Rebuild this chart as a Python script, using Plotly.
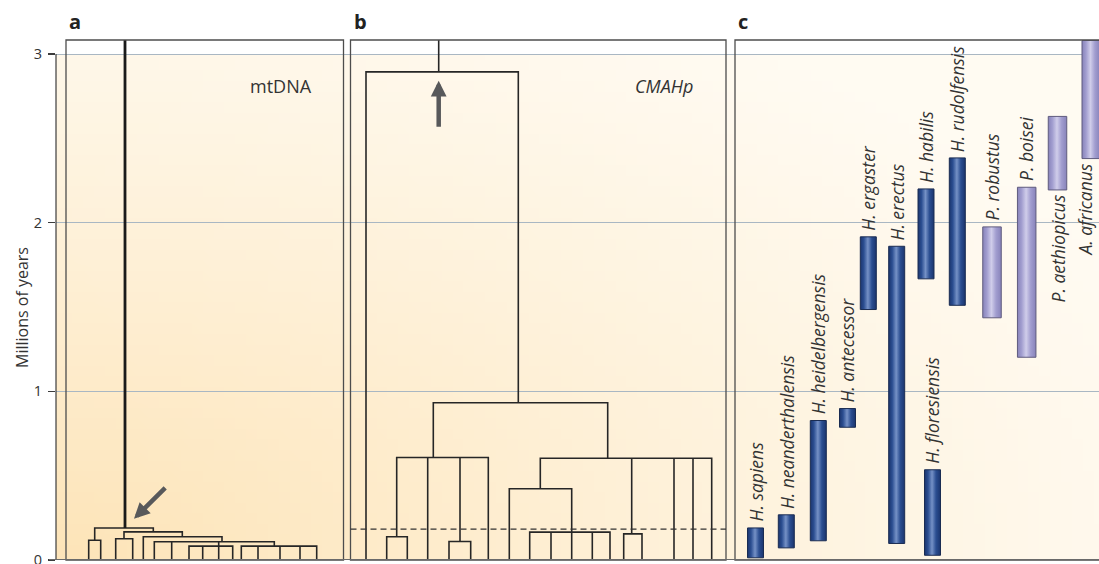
import zlib, struct, base64
import plotly.graph_objects as go

# ---------------------------------------------------------------- data
Y_TICKS = [0, 1, 2, 3]
Y_TICK_TEXT = ["0", "1", "2", "3"]
Y_MAX = 3.083
Y_TITLE = "Millions of years"
PANEL_LETTERS = ["a", "b", "c"]
GENE_LABELS = ["mtDNA", "CMAHp"]

# Trees: node = (attach_x, age_Myr, children); a bare number is a leaf (age 0) at that x
MT_TREE = (59.0, 0.190, [
    (28.7, 0.117, [22.7, 34.7]),
    (87.3, 0.167, [
        (58.0, 0.126, [49.7, 66.7]),
        (116.3, 0.138, [77.3,
            (156.0, 0.108, [88.3, 105.7,
                (152.7, 0.082, [123.0, 136.7, 152.7, 166.7]),
                (208.3, 0.082, [175.3, 192.0, 214.0, 234.0, 250.7])])])])])

CMAH_TREE = (88.2, 2.894, [15.5,
    (167.8, 0.932, [
        (82.8, 0.608, [(46.2, 0.138, [36.2, 56.8]), 77.2,
                       (109.5, 0.110, [98.5, 120.2]), 137.8]),
        (257.2, 0.603, [(189.8, 0.422, [158.8,
                                        (221.2, 0.165, [179.2, 200.5, 221.2, 241.8, 259.5])]),
                        (281.2, 0.155, [273.2, 291.5]), 323.5, 342.5, 361.2])])])

CMAH_DASH_AGE = 0.183

# arrows: (tail_x, tail_age, head_x, head_age)
MT_ARROW = [100.7, 0.437, 68.0, 0.244]
CMAH_ARROW = [88.2, 2.560, 88.2, 2.842]

# Panel c: fossil species time ranges
SPECIES = ["H. sapiens", "H. neanderthalensis", "H. heidelbergensis", "H. antecessor",
           "H. ergaster", "H. erectus", "H. habilis", "H. floresiensis", "H. rudolfensis",
           "P. robustus", "P. boisei", "P. aethiopicus", "A. africanus"]
SPECIES_POS = [20.5, 51.3, 83.3, 112.5, 133.3, 161.7, 191.0, 197.5, 222.3,
               257.0, 291.7, 322.5, 356.0]
SPECIES_FROM = [0.013, 0.072, 0.114, 0.787, 1.485, 0.098, 1.667, 0.028, 1.510,
                1.436, 1.202, 2.194, 2.380]
SPECIES_TO = [0.190, 0.268, 0.827, 0.898, 1.916, 1.860, 2.200, 0.535, 2.384,
              1.975, 2.210, 2.630, 3.080]
GENUS = ["Homo"] * 9 + ["Paranthropus"] * 3 + ["Australopithecus"]
LABEL_BELOW = [False] * 11 + [True, True]

# ---------------------------------------------------------------- styles / geometry
FONT = "Open Sans"
TEXT_COL = "#333333"
TREE_COL = "#262626"
FRAME_COL = "#4d4d4d"
GRID_COL = "#a9b7c3"
ARROW_COL = "#58595b"
BAR_WIDTH = {"Homo": 16, "Paranthropus": 18.5, "Australopithecus": 18}
BAR_SCALE = {
    "Homo": [[0, "#1b356e"], [0.22, "#2b4e91"], [0.47, "#7591c6"], [0.72, "#2b4e91"], [1, "#1b356e"]],
    "Paranthropus": [[0, "#8883ba"], [0.22, "#a19dcf"], [0.47, "#d0cdea"], [0.72, "#a19dcf"], [1, "#8883ba"]],
    "Australopithecus": [[0, "#8883ba"], [0.22, "#a19dcf"], [0.47, "#d0cdea"], [0.72, "#a19dcf"], [1, "#8883ba"]],
}
BAR_LINE = {"Homo": "#1a2c52", "Paranthropus": "#5f5b7e", "Australopithecus": "#5f5b7e"}

W, H = 1099, 564
ML, MR, MT, MB = 56, 0, 40, 4
PW = W - ML - MR
PH = H - MT - MB


def paper_x(sx):
    return (sx - ML) / PW


def paper_y(sy):
    return (H - MB - sy) / PH


# panel x extents in px (left, right)
PANELS = [(66, 343.5), (350.5, 726), (735, 1099)]
DOMAINS = [(paper_x(l), min(1.0, paper_x(r))) for l, r in PANELS]


# ---------------------------------------------------------------- gradient image
def _chunk(tag, data):
    return (struct.pack(">I", len(data)) + tag + data +
            struct.pack(">I", zlib.crc32(tag + data) & 0xFFFFFFFF))


def gradient_png(w=96, h=48):
    warm = (253, 228, 184)
    light = (255, 253, 248)
    rows = []
    for j in range(h):
        yn = 1 - (j + 0.5) / h  # 0 at bottom
        row = bytearray()
        for i in range(w):
            xn = (i + 0.5) / w
            d = ((xn / 1.15) ** 2 + (yn / 1.25) ** 2) ** 0.5
            t = max(0.0, 1 - d) ** 1.15
            t = 0.09 + 0.91 * t
            for a, b in zip(light, warm):
                row.append(int(round(a + (b - a) * t)))
        rows.append(b"\x00" + bytes(row))
    raw = b"".join(rows)
    png = (b"\x89PNG\r\n\x1a\n" +
           _chunk(b"IHDR", struct.pack(">IIBBBBB", w, h, 8, 2, 0, 0, 0)) +
           _chunk(b"IDAT", zlib.compress(raw, 9)) + _chunk(b"IEND", b""))
    return "data:image/png;base64," + base64.b64encode(png).decode()


# ---------------------------------------------------------------- tree helpers
def _x(c):
    return c[0] if isinstance(c, tuple) else c


def _h(c):
    return c[1] if isinstance(c, tuple) else 0.0


def tree_xy(root):
    xs, ys = [], []

    def walk(n):
        _, h, kids = n
        ks = sorted(kids, key=_x)
        first, last = ks[0], ks[-1]
        xs.extend([_x(first), _x(first), _x(last), _x(last), None])
        ys.extend([_h(first), h, h, _h(last), None])
        for k in ks[1:-1]:
            xs.extend([_x(k), _x(k), None])
            ys.extend([_h(k), h, None])
        for k in ks:
            if isinstance(k, tuple):
                walk(k)

    walk(root)
    return xs, ys


fig = go.Figure()

# background subplot (axis, grid, gradient)
fig.add_trace(go.Scatter(x=[], y=[], xaxis="x", yaxis="y", showlegend=False, hoverinfo="skip"))

# panel a tree
xs, ys = tree_xy(MT_TREE)
fig.add_trace(go.Scatter(x=xs, y=ys, mode="lines", line=dict(color=TREE_COL, width=1.6),
                         xaxis="x2", yaxis="y2", showlegend=False, hoverinfo="skip"))
fig.add_trace(go.Scatter(x=[MT_TREE[0], MT_TREE[0]], y=[MT_TREE[1], Y_MAX], mode="lines",
                         line=dict(color="#1a1a1a", width=2.8),
                         xaxis="x2", yaxis="y2", showlegend=False, hoverinfo="skip"))

# panel b tree
xs, ys = tree_xy(CMAH_TREE)
fig.add_trace(go.Scatter(x=xs, y=ys, mode="lines", line=dict(color=TREE_COL, width=1.6),
                         xaxis="x3", yaxis="y3", showlegend=False, hoverinfo="skip"))
fig.add_trace(go.Scatter(x=[CMAH_TREE[0], CMAH_TREE[0]], y=[CMAH_TREE[1], Y_MAX], mode="lines",
                         line=dict(color=TREE_COL, width=1.6),
                         xaxis="x3", yaxis="y3", showlegend=False, hoverinfo="skip"))

# panel c bars
annotations = []
for name, pos, y0, y1, g, below in zip(SPECIES, SPECIES_POS, SPECIES_FROM, SPECIES_TO, GENUS, LABEL_BELOW):
    hw = BAR_WIDTH[g] / 2
    fig.add_trace(go.Scatter(
        x=[pos - hw, pos + hw, pos + hw, pos - hw, pos - hw],
        y=[y0, y0, y1, y1, y0], mode="lines", fill="toself",
        fillgradient=dict(type="horizontal", colorscale=BAR_SCALE[g]),
        line=dict(color=BAR_LINE[g], width=1),
        xaxis="x4", yaxis="y4", showlegend=False, hoverinfo="skip"))
    annotations.append(dict(
        x=pos, y=y0 if below else y1, xref="x4", yref="y4", text=name, showarrow=False,
        textangle=-90, xanchor="right" if pos > 350 else "center",
        xshift=8 if pos > 350 else 0,
        yanchor="top" if below else "bottom",
        yshift=-3 if below else 4,
        font=dict(family=FONT, size=17.5, color=TEXT_COL, style="italic")))

# arrows
for arr, xr, yr in [(MT_ARROW, "x2", "y2"), (CMAH_ARROW, "x3", "y3")]:
    annotations.append(dict(x=arr[2], y=arr[3], ax=arr[0], ay=arr[1], xref=xr, yref=yr,
                            axref=xr, ayref=yr, text="", showarrow=True, arrowhead=2,
                            arrowsize=0.7, arrowwidth=4.5, arrowcolor=ARROW_COL))

# panel letters
for letter, (l, r) in zip(PANEL_LETTERS, PANELS):
    annotations.append(dict(x=paper_x(l + 1), y=paper_y(37), xref="paper", yref="paper",
                            text="<b>%s</b>" % letter, showarrow=False, xanchor="left", yanchor="bottom",
                            font=dict(family=FONT, size=20, color="#222222")))

# gene labels
annotations.append(dict(x=1, xshift=-30, y=paper_y(86), xref="x2 domain", yref="paper",
                        text=GENE_LABELS[0], showarrow=False, xanchor="right", yanchor="middle",
                        font=dict(family=FONT, size=18, color=TEXT_COL)))
annotations.append(dict(x=1, xshift=-31, y=paper_y(86), xref="x3 domain", yref="paper",
                        text=GENE_LABELS[1], showarrow=False, xanchor="right", yanchor="middle",
                        font=dict(family=FONT, size=18, color=TEXT_COL, style="italic")))

# y title
annotations.append(dict(x=paper_x(21.5), y=paper_y(307.5), xref="paper", yref="paper",
                        text=Y_TITLE, showarrow=False, textangle=-90, xanchor="center", yanchor="middle",
                        font=dict(family=FONT, size=16, color=TEXT_COL)))

shapes = []
# panel frames
for i, ax in enumerate(["x2", "x3", "x4"]):
    shapes.append(dict(type="rect", xref=ax + " domain", yref="paper", x0=0, x1=1 if i < 2 else 1.05,
                       y0=0, y1=1, line=dict(color=FRAME_COL, width=1.3), fillcolor="rgba(0,0,0,0)",
                       layer="above"))
# dashed line in panel b
shapes.append(dict(type="line", xref="x3 domain", yref="y3", x0=0, x1=1, y0=CMAH_DASH_AGE, y1=CMAH_DASH_AGE,
                   line=dict(color="#333333", width=1.2, dash="6px,4px")))
# y axis line 0..3 and base line
shapes.append(dict(type="line", xref="x domain", yref="y", x0=0, x1=0, y0=Y_TICKS[0], y1=Y_TICKS[-1],
                   line=dict(color="#3c3c3c", width=1.2)))
shapes.append(dict(type="line", xref="paper", yref="y", x0=-7 / PW, x1=1, y0=0, y1=0,
                   line=dict(color="#6a6a6a", width=2)))

layout = dict(
    width=W, height=H, margin=dict(l=ML, r=MR, t=MT, b=MB, autoexpand=False),
    paper_bgcolor="white", plot_bgcolor="rgba(0,0,0,0)", showlegend=False,
    font=dict(family=FONT, color=TEXT_COL),
    xaxis=dict(domain=[0, 1], range=[0, 1], visible=False, fixedrange=True),
    yaxis=dict(range=[0, Y_MAX], tickvals=Y_TICKS, ticktext=Y_TICK_TEXT, ticks="outside", ticklen=7,
               tickcolor="#3c3c3c", tickwidth=1.2, showgrid=True, gridcolor=GRID_COL, gridwidth=1,
               zeroline=False, showline=False, tickfont=dict(family=FONT, size=14.5, color=TEXT_COL),
               ticklabelstandoff=3, ticklabeloverflow="allow", automargin=False, fixedrange=True),
    annotations=annotations, shapes=shapes,
    images=[dict(source=gradient_png(), xref="x", yref="y", x=0, y=Y_TICKS[-1], sizex=1,
                 sizey=Y_TICKS[-1], xanchor="left", yanchor="top", sizing="stretch", layer="below")],
)
for i, (dom, (l, r)) in enumerate(zip(DOMAINS, PANELS), start=2):
    layout["xaxis%d" % i] = dict(domain=list(dom), range=[0, r - l], visible=False, anchor="y%d" % i,
                                 fixedrange=True)
    layout["yaxis%d" % i] = dict(range=[0, Y_MAX], visible=False, anchor="x%d" % i, fixedrange=True)

fig.update_layout(**layout)
fig.write_html("out.html", config={"displayModeBar": False, "staticPlot": True},
               post_script="document.body.style.margin='0';document.body.style.overflow='hidden';")
